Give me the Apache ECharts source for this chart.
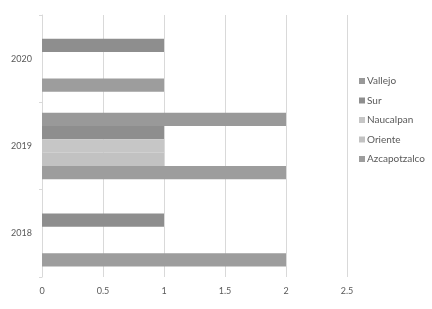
<!DOCTYPE html>
<html><head><meta charset="utf-8">
<script src="https://cdn.jsdelivr.net/npm/echarts@6/dist/echarts.min.js"></script>
<style>html,body{margin:0;padding:0;background:#fff}#c{width:432px;height:309px}</style>
</head><body><div id="c"></div>
<script>
const categories = ['2018', '2019', '2020'];
const seriesNames = ['Azcapotzalco', 'Oriente', 'Naucalpan', 'Sur', 'Vallejo'];
const azcapotzalco = [2, 2, 1];
const oriente = [0, 1, 0];
const naucalpan = [0, 1, 0];
const sur = [1, 1, 1];
const vallejo = [0, 2, 0];
const xTicks = [0, 0.5, 1, 1.5, 2, 2.5];
const legendOrder = ['Vallejo', 'Sur', 'Naucalpan', 'Oriente', 'Azcapotzalco'];

const values = [azcapotzalco, oriente, naucalpan, sur, vallejo];
const colors = ['#9d9d9d', '#c2c2c2', '#c6c6c6', '#8e8e8e', '#999999'];
const chart = echarts.init(document.getElementById('c'));
const font = 'Lato, "Open Sans", sans-serif';
// ECharts draws the first series at the top of each band; reverse so Azcapotzalco sits at the bottom
const order = [4, 3, 2, 1, 0];
chart.setOption({
  animation: false,
  grid: { left: 42, top: 15, width: 305, bottom: 32, containLabel: false },
  legend: {
    data: legendOrder, orient: 'vertical', left: 354, top: 71,
    itemWidth: 6, itemHeight: 6, itemGap: 9.5, icon: 'rect',
    textStyle: { fontSize: 10, color: '#595959', fontFamily: font, padding: [0, 0, 0, -3] }
  },
  xAxis: {
    type: 'value', min: 0, max: 2.5, interval: 0.5,
    axisLine: { show: false },
    axisTick: { show: false },
    splitLine: { lineStyle: { color: '#d9d9d9', width: 1 } },
    axisLabel: { fontSize: 9, color: '#595959', fontFamily: font, margin: 10,
      formatter: v => xTicks.includes(v) ? String(v) : '' }
  },
  yAxis: {
    type: 'category', data: categories,
    axisLine: { show: true, lineStyle: { color: '#d9d9d9' } },
    axisTick: { show: true, length: 3, lineStyle: { color: '#d9d9d9' } },
    axisLabel: { fontSize: 9, color: '#595959', fontFamily: font, margin: 10 }
  },
  series: order.map(i => ({
    name: seriesNames[i], type: 'bar', data: values[i],
    barGap: '0%', barCategoryGap: '24%',
    itemStyle: { color: colors[i] }
  }))
});
</script></body></html>
